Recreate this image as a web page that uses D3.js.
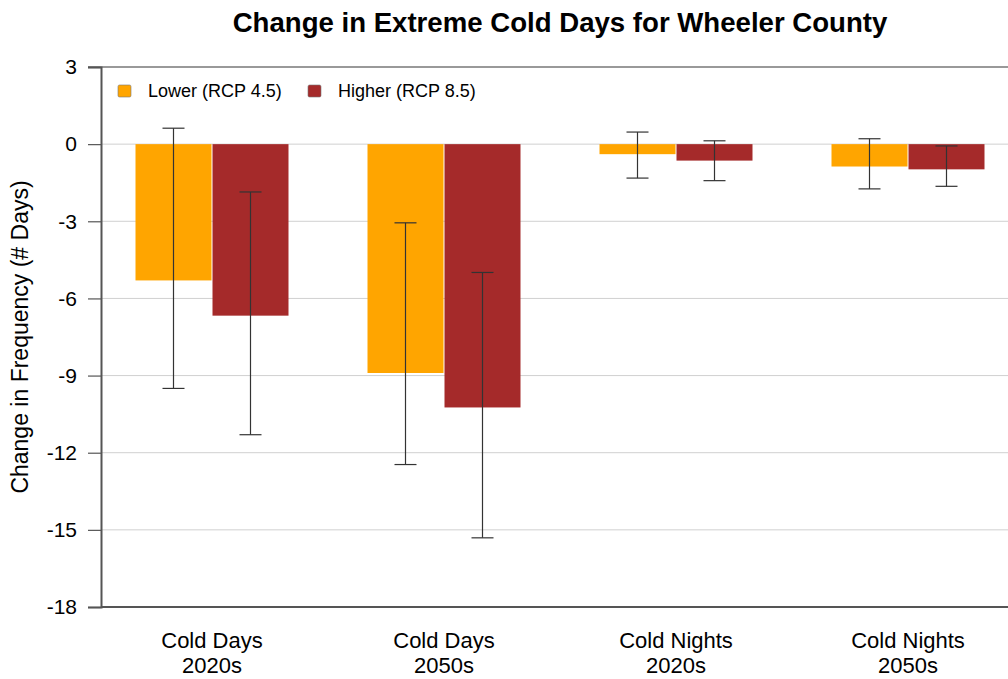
<!DOCTYPE html>
<html>
<head>
<meta charset="utf-8">
<script src="https://cdn.jsdelivr.net/npm/d3@7"></script>
<style>
  html, body { margin: 0; padding: 0; background: #fff; }
  svg { display: block; font-family: "Liberation Sans", Arial, sans-serif; }
</style>
</head>
<body>
<svg id="chart" width="1008" height="679"></svg>
<script>
// ---- data ----
const categories = [["Cold Days", "2020s"], ["Cold Days", "2050s"], ["Cold Nights", "2020s"], ["Cold Nights", "2050s"]];
const seriesNames = ["Lower (RCP 4.5)", "Higher (RCP 8.5)"];
const seriesColors = ["#FFA500", "#A52A2A"];
const lowerValues = [-5.3, -8.9, -0.39, -0.87];
const lowerErrHigh = [0.62, -3.06, 0.47, 0.21];
const lowerErrLow = [-9.5, -12.46, -1.32, -1.74];
const higherValues = [-6.67, -10.24, -0.64, -0.98];
const higherErrHigh = [-1.86, -4.99, 0.13, -0.07];
const higherErrLow = [-11.3, -15.31, -1.42, -1.64];
const yTicks = [3, 0, -3, -6, -9, -12, -15, -18];
const title = "Change in Extreme Cold Days for Wheeler County";
const yLabel = "Change in Frequency (# Days)";

const series = [
  { name: seriesNames[0], color: seriesColors[0], values: lowerValues, hi: lowerErrHigh, lo: lowerErrLow },
  { name: seriesNames[1], color: seriesColors[1], values: higherValues, hi: higherErrHigh, lo: higherErrLow }
];

const svg = d3.select("#chart");
const plotLeft = 101, plotTop = 67, plotBottom = 607;

const catKeys = categories.map(c => c.join(" "));
const x0 = d3.scaleBand().domain(catKeys).range([96, 1024]).padding(0);
const x1 = d3.scaleBand().domain(seriesNames).range([0, 154]).padding(0);
const y = d3.scaleLinear().domain([-18, 3]).range([plotBottom, plotTop]);

// title
svg.append("text").attr("x", 560).attr("y", 32).attr("text-anchor", "middle")
  .attr("font-size", 27.6).attr("font-weight", "bold").attr("fill", "#000").text(title);

// gridlines
svg.append("g").selectAll("line").data(yTicks.filter(t => t !== 3 && t !== -18)).join("line")
  .attr("x1", plotLeft).attr("x2", 1008).attr("y1", d => y(d)).attr("y2", d => y(d))
  .attr("stroke", "#d0d0d0").attr("stroke-width", 1);

// top border
svg.append("line").attr("x1", 88).attr("x2", 1008).attr("y1", y(3)).attr("y2", y(3))
  .attr("stroke", "#777").attr("stroke-width", 1.5);

// bars
const groups = svg.append("g").selectAll("g").data(catKeys).join("g")
  .attr("transform", d => `translate(${x0(d) + (x0.bandwidth() - 154) / 2},0)`);

groups.each(function(cat, i) {
  const g = d3.select(this);
  series.forEach(s => {
    const v = s.values[i];
    g.append("rect")
      .attr("x", x1(s.name) + 0.5)
      .attr("width", x1.bandwidth() - 1)
      .attr("y", y(Math.max(0, v)))
      .attr("height", Math.abs(y(v) - y(0)))
      .attr("fill", s.color);
  });
});

// error bars
groups.each(function(cat, i) {
  const g = d3.select(this);
  series.forEach(s => {
    const cx = x1(s.name) + x1.bandwidth() / 2;
    const hi = y(s.hi[i]), lo = y(s.lo[i]);
    g.append("line").attr("x1", cx).attr("x2", cx).attr("y1", hi).attr("y2", lo)
      .attr("stroke", "#333").attr("stroke-width", 1.2);
    [hi, lo].forEach(yy => g.append("line").attr("x1", cx - 11).attr("x2", cx + 11)
      .attr("y1", yy).attr("y2", yy).attr("stroke", "#333").attr("stroke-width", 1.2));
  });
});

// y axis
const yAxis = d3.axisLeft(y).tickValues(yTicks).tickSize(13).tickPadding(11).tickFormat(d => String(d));
const yg = svg.append("g").attr("transform", `translate(${plotLeft},0)`).call(yAxis);
yg.select(".domain").attr("stroke", "#555").attr("stroke-width", 2);
yg.selectAll(".tick line").attr("stroke", "#555").attr("stroke-width", 1.2);
yg.selectAll(".tick text").attr("font-size", 21).attr("fill", "#000")
  .attr("font-family", "'Liberation Sans', Arial, sans-serif");

// bottom axis line
svg.append("line").attr("x1", plotLeft).attr("x2", 1008).attr("y1", plotBottom).attr("y2", plotBottom)
  .attr("stroke", "#555").attr("stroke-width", 2);

// x labels
const xl = svg.append("g").selectAll("text").data(categories).join("text")
  .attr("text-anchor", "middle").attr("font-size", 22).attr("fill", "#000");
xl.each(function(d, i) {
  const t = d3.select(this);
  const cx = x0(catKeys[i]) + x0.bandwidth() / 2;
  t.append("tspan").attr("x", cx).attr("y", 648).text(d[0]);
  t.append("tspan").attr("x", cx).attr("y", 673).text(d[1]);
});

// y label
svg.append("text").attr("transform", `translate(28,337) rotate(-90)`)
  .attr("text-anchor", "middle").attr("font-size", 23).attr("fill", "#000").text(yLabel);

// legend
const legendX = [118, 308];
const lg = svg.append("g").selectAll("g").data(series).join("g")
  .attr("transform", (d, i) => `translate(${legendX[i]},85)`);
lg.append("rect").attr("x", 0).attr("y", 0).attr("width", 13).attr("height", 12).attr("rx", 1.5)
  .attr("fill", d => d.color).attr("stroke", "#777").attr("stroke-width", 0.6);
lg.append("text").attr("x", 30).attr("y", 12).attr("font-size", 18).attr("fill", "#000").text(d => d.name);
</script>
</body>
</html>
